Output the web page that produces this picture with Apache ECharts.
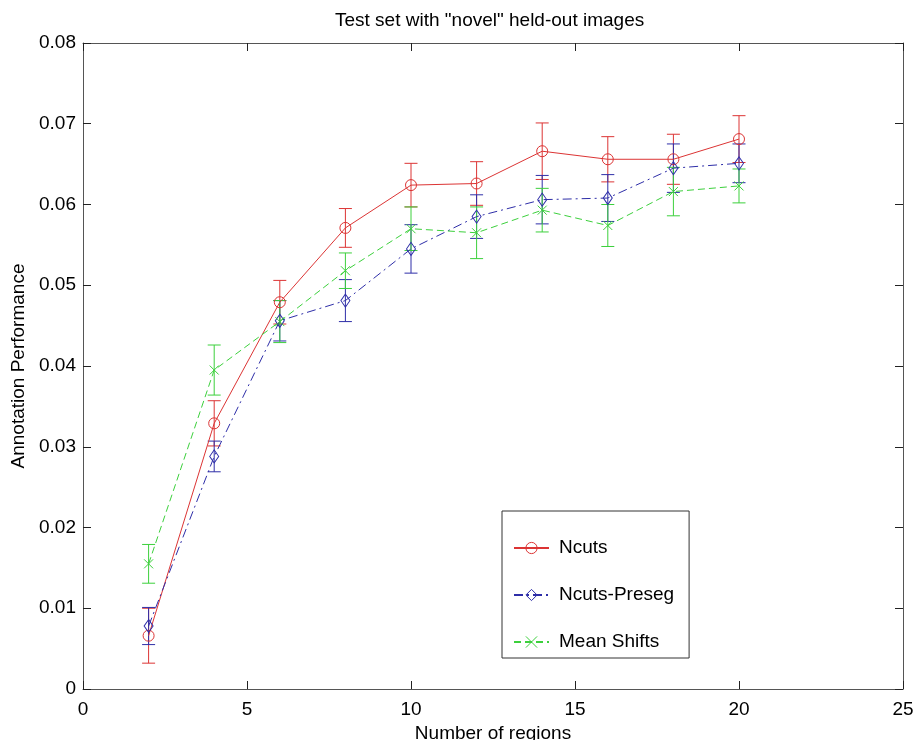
<!DOCTYPE html>
<html>
<head>
<meta charset="utf-8">
<script src="https://cdn.jsdelivr.net/npm/echarts@6/dist/echarts.min.js"></script>
<style>
html,body{margin:0;padding:0;background:#fff;}
#chart{width:914px;height:740px;}
</style>
</head>
<body>
<div id="chart"></div>
<script>
// ---- data ----
var regions = [2, 4, 6, 8, 10, 12, 14, 16, 18, 20];
var ncuts = [0.0066, 0.0329, 0.0479, 0.0571, 0.0624, 0.0626, 0.0666, 0.0656, 0.0656, 0.0681];
var ncutsErr = [0.0034, 0.0028, 0.0027, 0.0024, 0.0027, 0.0027, 0.0035, 0.0028, 0.0031, 0.0029];
var preseg = [0.0078, 0.0288, 0.0456, 0.0481, 0.0545, 0.0585, 0.0606, 0.0608, 0.0645, 0.0651];
var presegErr = [0.0023, 0.0019, 0.0025, 0.0026, 0.0030, 0.0027, 0.0030, 0.0029, 0.0030, 0.0024];
var meanShift = [0.0155, 0.0395, 0.0455, 0.0518, 0.0570, 0.0565, 0.0593, 0.0574, 0.0616, 0.0623];
var meanShiftErr = [0.0024, 0.0031, 0.0026, 0.0022, 0.0027, 0.0032, 0.0027, 0.0026, 0.0030, 0.0021];
var seriesNames = ['Ncuts', 'Ncuts-Preseg', 'Mean Shifts'];
var titleText = 'Test set with "novel" held-out images';
var xName = 'Number of regions';
var yName = 'Annotation Performance';

var RED = '#dc3434', BLUE = '#2e2ea8', GREEN = '#3cd03c';
var FONT = '"Liberation Sans", Arial, Helvetica, sans-serif';

function pairs(ys) { return regions.map(function (x, i) { return [x, ys[i]]; }); }
function triples(ys, es) { return regions.map(function (x, i) { return [x, ys[i], es[i]]; }); }

function errSeries(name, ys, es, color) {
  return {
    type: 'custom',
    name: name,
    data: triples(ys, es),
    z: 3,
    silent: true,
    renderItem: function (params, api) {
      var x = api.value(0), y = api.value(1), e = api.value(2);
      var top = api.coord([x, y + e]);
      var bot = api.coord([x, y - e]);
      var hw = 6.5;
      var st = { stroke: color, lineWidth: 1 };
      return {
        type: 'group',
        children: [
          { type: 'line', shape: { x1: top[0], y1: top[1], x2: bot[0], y2: bot[1] }, style: st },
          { type: 'line', shape: { x1: top[0] - hw, y1: top[1], x2: top[0] + hw, y2: top[1] }, style: st },
          { type: 'line', shape: { x1: bot[0] - hw, y1: bot[1], x2: bot[0] + hw, y2: bot[1] }, style: st }
        ]
      };
    }
  };
}

var chart = echarts.init(document.getElementById('chart'), null, { renderer: 'canvas' });

var axisLineStyle = { color: '#555', width: 1 };
var tickStyle = { color: '#222', width: 1 };

var option = {
  backgroundColor: '#fff',
  animation: false,
  textStyle: { fontFamily: FONT },
  title: {
    text: titleText,
    left: 335,
    top: 11,
    padding: 0,
    textStyle: { fontFamily: FONT, fontSize: 19, fontWeight: 'normal', color: '#000' }
  },
  grid: { left: 83, right: 11, top: 43, bottom: 51, containLabel: false, outerBoundsMode: 'none' },
  legend: {
    data: seriesNames,
    orient: 'vertical',
    left: 502,
    top: 511,
    padding: [27, 15, 6, 11],
    itemWidth: 35,
    itemHeight: 14,
    itemGap: 27,
    itemStyle: { borderWidth: 1 },
    textStyle: { fontFamily: FONT, fontSize: 19, color: '#000', lineHeight: 20, padding: [0, 0, 0, 5] },
    borderColor: '#333',
    borderWidth: 1,
    backgroundColor: '#fff'
  },
  xAxis: [{
    type: 'value', min: 0, max: 25, interval: 5,
    name: xName, nameLocation: 'middle', nameGap: 32,
    nameTextStyle: { fontFamily: FONT, fontSize: 19, color: '#000' },
    axisLine: { show: true, onZero: false, lineStyle: axisLineStyle },
    axisTick: { show: true, inside: true, length: 8, lineStyle: tickStyle },
    axisLabel: { fontFamily: FONT, fontSize: 19, color: '#000', margin: 11 },
    splitLine: { show: false }
  }, {
    type: 'value', min: 0, max: 25, interval: 5, position: 'top',
    axisLine: { show: true, onZero: false, lineStyle: axisLineStyle },
    axisTick: { show: true, inside: true, length: 8, lineStyle: tickStyle },
    axisLabel: { show: false },
    splitLine: { show: false }
  }],
  yAxis: [{
    type: 'value', min: 0, max: 0.08, interval: 0.01,
    name: yName, nameLocation: 'middle', nameGap: 54,
    nameTextStyle: { fontFamily: FONT, fontSize: 19, color: '#000' },
    axisLine: { show: true, onZero: false, lineStyle: axisLineStyle },
    axisTick: { show: true, inside: true, length: 8, lineStyle: tickStyle },
    axisLabel: { fontFamily: FONT, fontSize: 19, color: '#000', margin: 7,
      formatter: function (v) { return v === 0 ? '0' : v.toFixed(2); } },
    splitLine: { show: false }
  }, {
    type: 'value', min: 0, max: 0.08, interval: 0.01, position: 'right',
    axisLine: { show: true, onZero: false, lineStyle: axisLineStyle },
    axisTick: { show: true, inside: true, length: 8, lineStyle: tickStyle },
    axisLabel: { show: false },
    splitLine: { show: false }
  }],
  series: [
    {
      type: 'line', name: seriesNames[0], data: pairs(ncuts), z: 4,
      symbol: 'circle', symbolSize: 11,
      lineStyle: { color: RED, width: 1, type: 'solid' },
      itemStyle: { color: 'rgba(255,255,255,0)', borderColor: RED, borderWidth: 1 }
    },
    {
      type: 'line', name: seriesNames[1], data: pairs(preseg), z: 4,
      symbol: 'diamond', symbolSize: [9, 13],
      lineStyle: { color: BLUE, width: 1, type: [9, 4, 2, 4] },
      itemStyle: { color: 'rgba(255,255,255,0)', borderColor: BLUE, borderWidth: 1 }
    },
    {
      type: 'line', name: seriesNames[2], data: pairs(meanShift), z: 4,
      symbol: 'path://M0,0L10,10M10,0L0,10', symbolSize: 9,
      lineStyle: { color: GREEN, width: 1, type: [7, 4] },
      itemStyle: { color: 'rgba(255,255,255,0)', borderColor: GREEN, borderWidth: 1 }
    },
    errSeries('err-ncuts', ncuts, ncutsErr, RED),
    errSeries('err-preseg', preseg, presegErr, BLUE),
    errSeries('err-ms', meanShift, meanShiftErr, GREEN)
  ]
};
chart.setOption(option);
</script>
</body>
</html>
